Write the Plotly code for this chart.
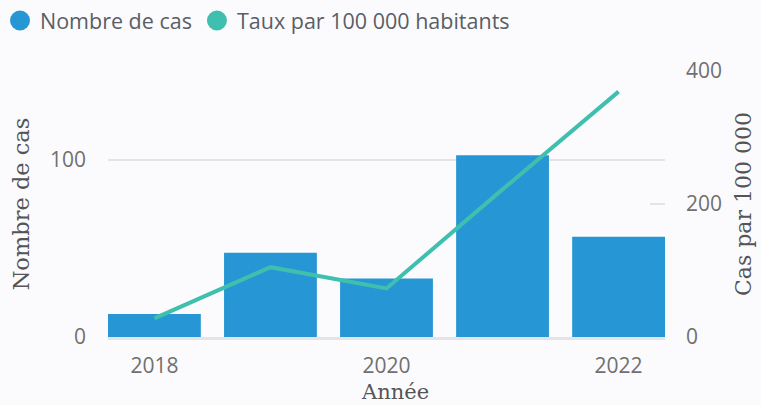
import plotly.graph_objects as go

# Annual data
annees = [2018, 2019, 2020, 2021, 2022]
nombre_de_cas = [13, 47.5, 33, 102.5, 56.5]
taux_100k = [28, 105, 73, 222, 369]

couleur_barres = "#2697d4"
couleur_ligne = "#3fbfae"
police_sans = "Open Sans"
police_titres = "DejaVu Serif"
gris_texte = "#707070"
gris_titre = "#555555"

fig = go.Figure()

fig.add_trace(go.Bar(
    x=annees, y=nombre_de_cas, name="Nombre de cas",
    marker=dict(color=couleur_barres, line=dict(width=0)),
    showlegend=False, yaxis="y",
))
fig.add_trace(go.Scatter(
    x=annees, y=taux_100k, name="Taux par 100 000 habitants",
    mode="lines", line=dict(color=couleur_ligne, width=4),
    showlegend=False, yaxis="y2",
))

# Legend entries drawn as round markers
for nom, couleur in [("Nombre de cas", couleur_barres),
                     ("Taux par 100 000 habitants", couleur_ligne)]:
    fig.add_trace(go.Scatter(
        x=[None], y=[None], mode="markers", name=nom,
        marker=dict(color=couleur, size=16, symbol="circle",
                    line=dict(color=couleur, width=4)),
        showlegend=True,
    ))

fig.update_layout(
    width=761, height=405,
    margin=dict(l=108, r=96, t=71, b=68, autoexpand=False),
    paper_bgcolor="#fbfbfd", plot_bgcolor="#fbfbfd",
    bargap=0.2,
    showlegend=True,
    legend=dict(
        orientation="h", x=-0.005, xanchor="left", y=1, yanchor="top",
        yref="container", xref="container",
        font=dict(family=police_sans, size=21.5, color="#5a5e66"),
        itemwidth=30, tracegroupgap=0, itemclick=False,
        bgcolor="rgba(0,0,0,0)",
    ),
    xaxis=dict(
        range=[2017.6, 2022.4], automargin=False,
        tickmode="array", tickvals=[2018, 2020, 2022],
        ticktext=["2018", "2020", "2022"],
        tickfont=dict(family=police_sans, size=21, color=gris_texte),
        showgrid=False, zeroline=False,
        showline=True, linecolor="#e4e4e8", linewidth=3,
        ticks="", ticklabelstandoff=8,
    ),
    yaxis=dict(
        range=[0, 150], automargin=False,
        tickvals=[0, 100],
        tickfont=dict(family=police_sans, size=21, color=gris_texte),
        showgrid=True, gridcolor="#e4e4e8", gridwidth=2,
        zeroline=False, showline=False, ticks="",
        ticklabelstandoff=21,
        title=dict(text="Nombre de cas", font=dict(family=police_titres, size=22.5, color=gris_titre),
                   standoff=14),
    ),
    yaxis2=dict(
        range=[0, 400], overlaying="y", side="right", automargin=False,
        tickvals=[0, 200, 400],
        tickfont=dict(family=police_sans, size=21, color=gris_texte),
        showgrid=False, zeroline=False, showline=False,
        ticks="inside", ticklen=15, tickwidth=2, tickcolor="#e4e4e8",
        ticklabelstandoff=20,
        title=dict(text="Cas par 100 000", font=dict(family=police_titres, size=22, color=gris_titre),
                   standoff=14),
    ),
)

# X-axis title, near the lower edge of the figure
fig.add_annotation(
    text="Année", xref="paper", yref="paper",
    x=0.515, y=-0.207, xanchor="center", yanchor="middle",
    showarrow=False,
    font=dict(family=police_titres, size=21, color=gris_titre),
)

fig.write_html("out.html")
